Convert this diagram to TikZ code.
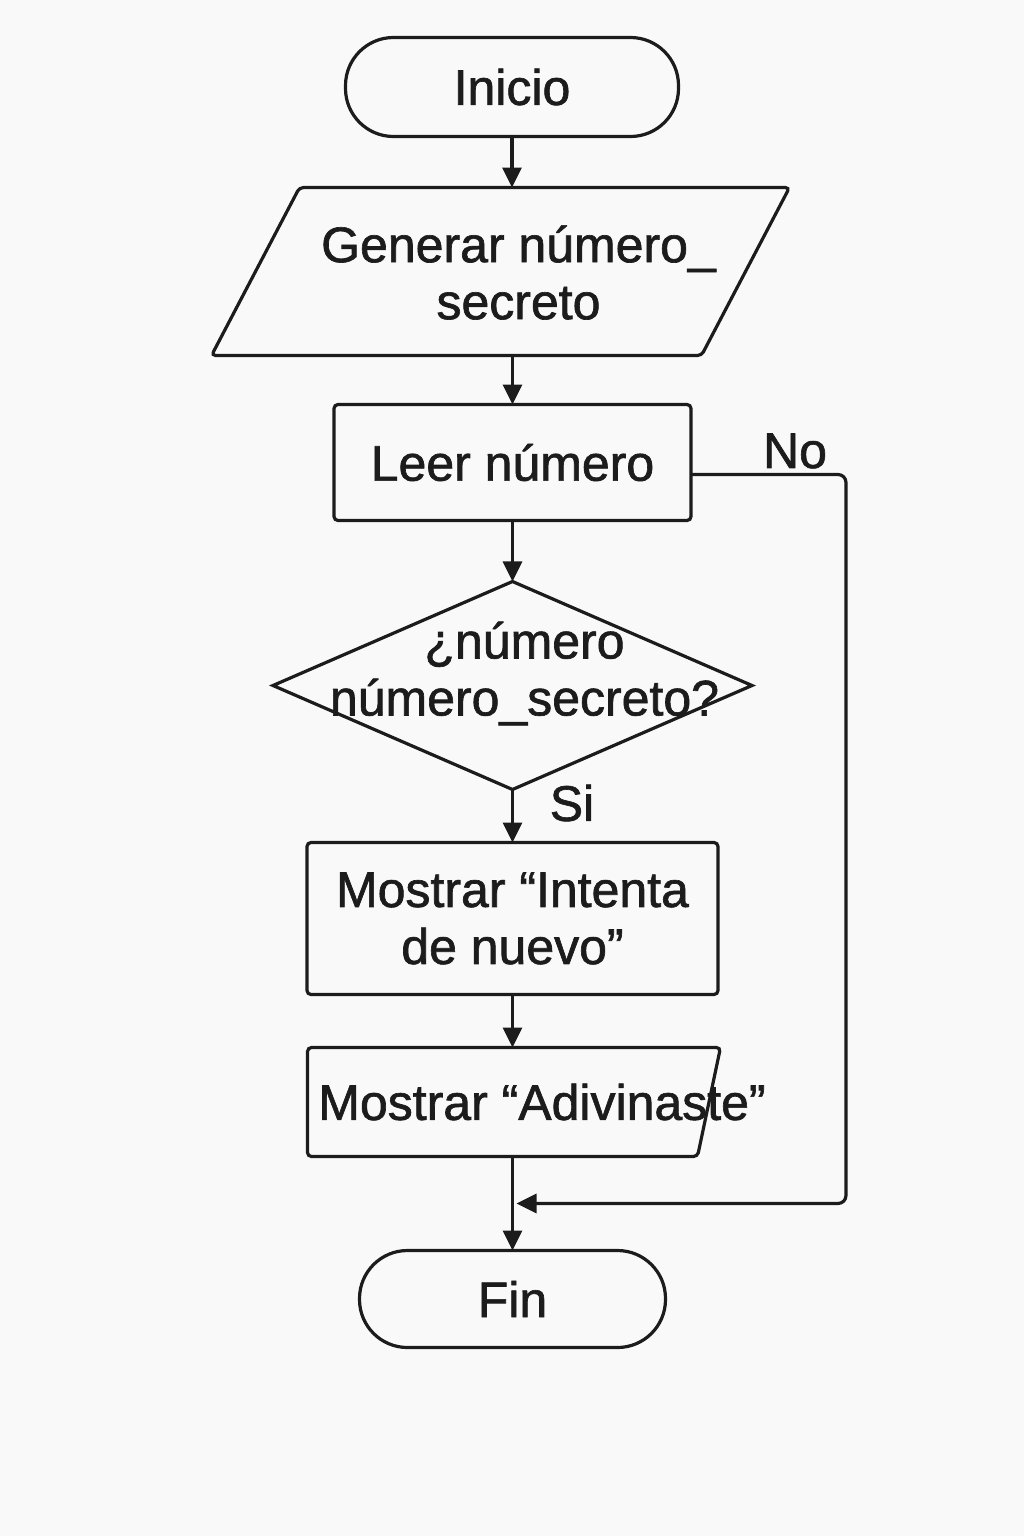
\documentclass[tikz,border=0pt]{standalone}
\usepackage{fontspec}
\setmainfont{Liberation Sans}[BoldFont=Liberation Sans, BoldFeatures={FakeBold=1.3}]
\usepackage{tikz}
\usetikzlibrary{shapes.geometric, arrows.meta, positioning, calc}
\definecolor{ink}{RGB}{28,28,28}
\definecolor{paper}{RGB}{249,249,249}

\begin{document}
\begin{tikzpicture}[
    x=0.5pt, y=-0.5pt,
    font=\fontsize{25}{28.5}\selectfont\bfseries,
    base/.style={draw=ink, line width=1.6pt, text=ink, inner sep=2pt, outer sep=0pt, align=center},
    term/.style={base, rectangle, rounded corners=24pt},
    body/.style={rectangle, inner sep=0pt, outer sep=0pt},
    edge/.style={draw=ink, line width=1.6pt, rounded corners=2pt},
    proc/.style={base, rectangle, rounded corners=2pt},
    dec/.style={base, diamond},
    arr/.style={-{Triangle[length=10pt, width=9.5pt]}, draw=ink, line width=1.6pt},
    lbl/.style={text=ink, inner sep=0pt, align=center},
  ]
    \fill[paper] (0,0) rectangle (1024,1536);
    \useasboundingbox (0,0) rectangle (1024,1536);

    % Start
    \node[term, minimum width=166.5pt, minimum height=49.5pt] (ini) at (512,87) {Inicio};

    % Secret number (slanted box)
    \node[body, minimum width=245pt, minimum height=84pt, below=25.5pt of ini, xshift=-5.75pt] (gen) {};
    \draw[edge] ([xshift=-22pt]gen.south west) -- ([xshift=22pt]gen.north west)
      -- ([xshift=22pt]gen.north east) -- ([xshift=-22pt]gen.south east) -- cycle;
    \node[lbl] (gentxt) at ([xshift=9pt, yshift=-0.5pt]gen.center) {Generar número\_\\secreto};
    \draw[arr] (ini.south) -- (ini.south |- gen.north);

    % Read guess
    \node[proc, minimum width=178.5pt, minimum height=58pt, below=24.5pt of gen, xshift=6pt] (leer) {Leer número};
    \draw[arr] (gen.south -| leer.north) -- (leer.north);

    % Test
    \node[dec, minimum width=239.5pt, minimum height=104pt, below=30.5pt of leer] (q) {};
    \node[lbl] (qtxt) at ([xshift=6pt, yshift=6pt]q.center) {¿número\\número\_secreto?};
    \draw[arr] (leer) -- (q);
    \node[lbl] (si) at (572,803) {Si};

    % Messages
    \node[proc, minimum width=205.5pt, minimum height=76pt, below=26.5pt of q] (msg) {Mostrar “Intenta\\de nuevo”};
    \draw[arr] (q) -- (msg);

    \node[body, minimum width=195pt, minimum height=54.5pt, below=26.5pt of msg, xshift=-5pt] (adiv) {};
    \draw[edge] (adiv.south west) -- (adiv.north west) -- ([xshift=11.5pt]adiv.north east)
      -- (adiv.south east) -- cycle;
    \node[lbl] (adivtxt) at (542,1102) {Mostrar “Adivinaste”};
    \draw[arr] (msg.south) -- (msg.south |- adiv.north);

    % End
    \node[term, minimum width=153pt, minimum height=48.5pt, below=47pt of adiv.south -| msg.south] (fin) {Fin};
    \draw[arr] (adiv.south -| fin.north) -- (fin.north);
    \coordinate (mrg) at ($(adiv.south -| fin.north)!0.5!(fin.north)$);

    % No branch
    \draw[arr, rounded corners=4pt] ([yshift=-6pt]leer.east) -- ++(155,0) |- ([xshift=2pt]mrg);
    \node[lbl] (no) at (795,451) {No};
  \end{tikzpicture}
\end{document}
